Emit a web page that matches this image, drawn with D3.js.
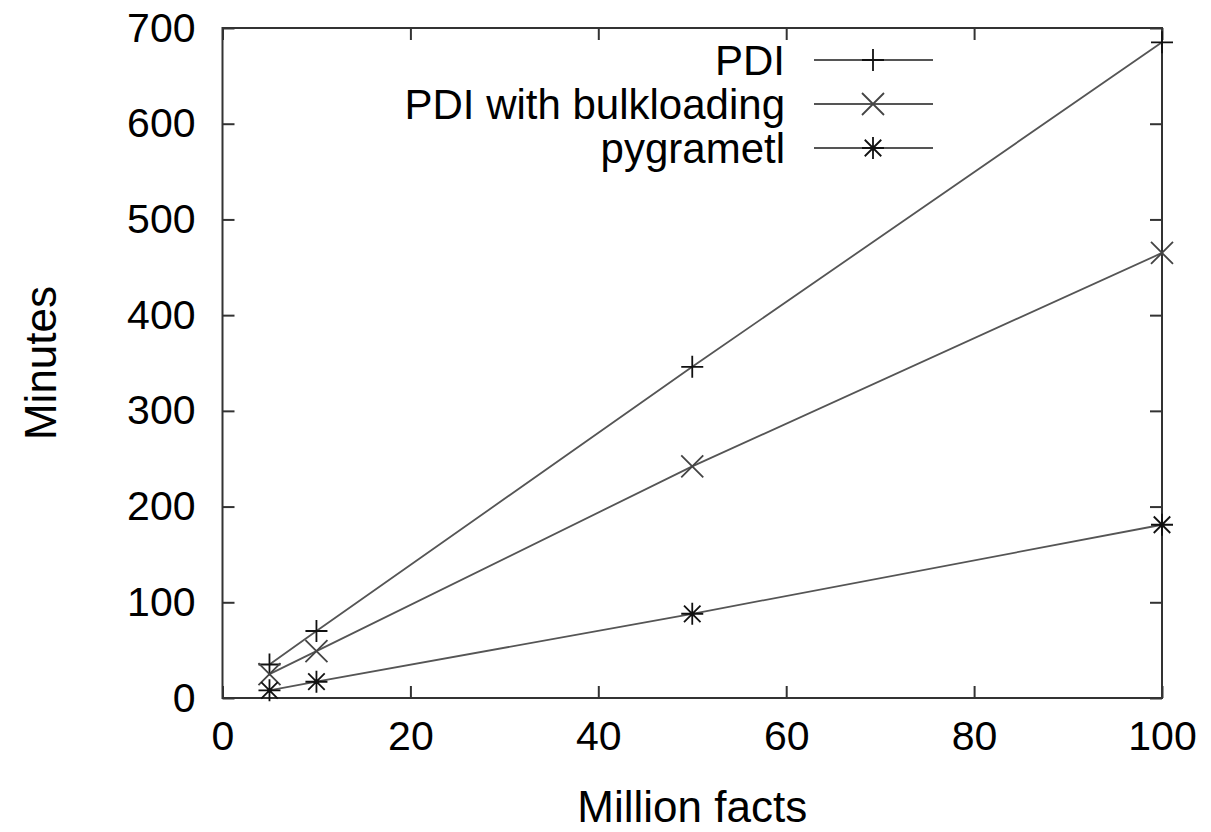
<!DOCTYPE html>
<html>
<head>
<meta charset="utf-8">
<script src="https://cdn.jsdelivr.net/npm/d3@7"></script>
<style>
  body { margin: 0; background: #fff; }
  text { font-family: "Liberation Sans", Arial, sans-serif; fill: #000; }
</style>
</head>
<body>
<svg id="chart" width="1211" height="832"></svg>
<script>
// Data
const facts = [5, 10, 50, 100];
const pdi = [35, 70, 346, 685];
const pdiBulk = [25, 49, 242, 465];
const pygrametl = [8, 17, 88, 181];

const seriesNames = ["PDI", "PDI with bulkloading", "pygrametl"];
const seriesSymbols = ["plus", "cross", "star"];
const xTicks = [0, 20, 40, 60, 80, 100];
const yTicks = [0, 100, 200, 300, 400, 500, 600, 700];

const series = [pdi, pdiBulk, pygrametl].map((vals, i) => ({
    name: seriesNames[i],
    symbol: seriesSymbols[i],
    points: facts.map((f, j) => ({ x: f, y: vals[j] }))
}));

const margin = { left: 222.5, right: 1162, top: 28, bottom: 698 };

const svg = d3.select('#chart');

const x = d3.scaleLinear().domain([0, 100]).range([margin.left, margin.right]);
const y = d3.scaleLinear().domain([0, 700]).range([margin.bottom, margin.top]);

const tickLen = 12;
const frameColor = '#333';

// Marker path generator
function markerPath(type, s) {
    const h = s / 2;
    if (type === 'plus') return `M${-h},0H${h}M0,${-h}V${h}`;
    if (type === 'cross') return `M${-h},${-h}L${h},${h}M${-h},${h}L${h},${-h}`;
    // star = plus + cross
    return `M${-h},0H${h}M0,${-h}V${h}M${-h*0.75},${-h*0.75}L${h*0.75},${h*0.75}M${-h*0.75},${h*0.75}L${h*0.75},${-h*0.75}`;
}

// Axes (ticks inward, mirrored)
const tickFont = '41px';

svg.append('g')
    .attr('transform', `translate(0,${margin.bottom})`)
    .call(d3.axisBottom(x).tickValues(xTicks).tickSize(-tickLen).tickPadding(23))
    .call(g => g.select('.domain').remove())
    .call(g => g.selectAll('line').attr('stroke', frameColor).attr('stroke-width', 2))
    .call(g => g.selectAll('text').style('font-size', tickFont).attr('dy', '0.71em')
        .attr('font-family', '"Liberation Sans", Arial, sans-serif'));

svg.append('g')
    .attr('transform', `translate(0,${margin.top})`)
    .call(d3.axisTop(x).tickValues(xTicks).tickSize(-tickLen).tickFormat(''))
    .call(g => g.select('.domain').remove())
    .call(g => g.selectAll('line').attr('stroke', frameColor).attr('stroke-width', 2));

svg.append('g')
    .attr('transform', `translate(${margin.left},0)`)
    .call(d3.axisLeft(y).tickValues(yTicks).tickSize(-tickLen).tickPadding(27))
    .call(g => g.select('.domain').remove())
    .call(g => g.selectAll('line').attr('stroke', frameColor).attr('stroke-width', 2))
    .call(g => g.selectAll('text').style('font-size', tickFont)
        .attr('font-family', '"Liberation Sans", Arial, sans-serif'));

svg.append('g')
    .attr('transform', `translate(${margin.right},0)`)
    .call(d3.axisRight(y).tickValues(yTicks).tickSize(-tickLen).tickFormat(''))
    .call(g => g.select('.domain').remove())
    .call(g => g.selectAll('line').attr('stroke', frameColor).attr('stroke-width', 2));

// Frame
svg.append('rect')
    .attr('x', margin.left)
    .attr('y', margin.top)
    .attr('width', margin.right - margin.left)
    .attr('height', margin.bottom - margin.top)
    .attr('fill', 'none')
    .attr('stroke', frameColor)
    .attr('stroke-width', 2);

// Lines
const line = d3.line().x(d => x(d.x)).y(d => y(d.y));

svg.append('g')
    .selectAll('path')
    .data(series)
    .enter().append('path')
    .attr('d', d => line(d.points))
    .attr('fill', 'none')
    .attr('stroke', '#555')
    .attr('stroke-width', 1.8);

// Markers
series.forEach(s => {
    svg.append('g')
        .selectAll('path')
        .data(s.points)
        .enter().append('path')
        .attr('transform', d => `translate(${x(d.x)},${y(d.y)})`)
        .attr('d', markerPath(s.symbol, 22))
        .attr('fill', 'none')
        .attr('stroke', s.symbol === 'cross' ? '#444' : '#111')
        .attr('stroke-width', 1.8);
});

// Legend
const legend = svg.append('g')
    .selectAll('g')
    .data(series)
    .enter().append('g')
    .attr('transform', (d, i) => `translate(0,${60 + i * 44})`);

legend.append('text')
    .attr('x', 785)
    .attr('dy', '0.35em')
    .attr('text-anchor', 'end')
    .style('font-size', '42px')
    .text(d => d.name);

legend.append('line')
    .attr('x1', 814).attr('x2', 933)
    .attr('stroke', '#555').attr('stroke-width', 1.8);

legend.append('path')
    .attr('transform', 'translate(873,0)')
    .attr('d', d => markerPath(d.symbol, 22))
    .attr('fill', 'none')
    .attr('stroke', d => d.symbol === 'cross' ? '#444' : '#111')
    .attr('stroke-width', 1.8);

// Axis titles
svg.append('text')
    .attr('transform', `translate(56,${(margin.top + margin.bottom) / 2}) rotate(-90)`)
    .attr('text-anchor', 'middle')
    .style('font-size', '44px')
    .text('Minutes');

svg.append('text')
    .attr('x', (margin.left + margin.right) / 2)
    .attr('y', 822)
    .attr('text-anchor', 'middle')
    .style('font-size', '44px')
    .text('Million facts');
</script>
</body>
</html>
